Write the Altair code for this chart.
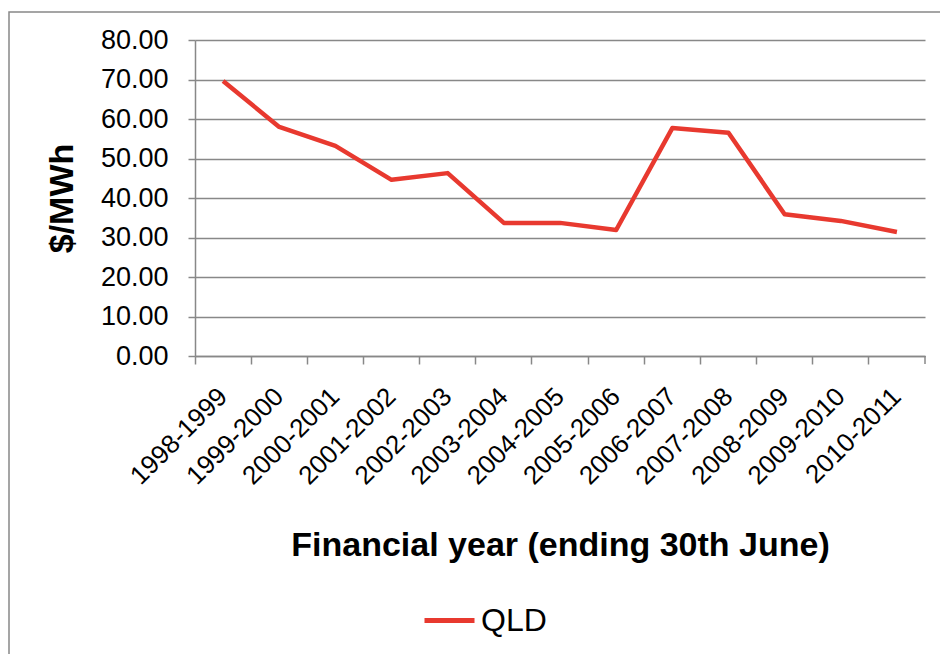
import altair as alt
import pandas as pd

years = ["1998-1999", "1999-2000", "2000-2001", "2001-2002", "2002-2003",
         "2003-2004", "2004-2005", "2005-2006", "2006-2007", "2007-2008",
         "2008-2009", "2009-2010", "2010-2011"]
qld = [69.6, 58.0, 53.2, 44.6, 46.3, 33.7, 33.7, 31.9, 57.7, 56.5, 35.9, 34.2, 31.4]
series = ["QLD"] * len(years)
y_ticks = [0, 10, 20, 30, 40, 50, 60, 70, 80]

df = pd.DataFrame({"year": years, "price": qld, "series": series})
one = pd.DataFrame({"k": [0]})

FONT = "Liberation Sans"
RED = "#E8392F"
GRAY = "#888888"

W, H = 730, 316

line = alt.Chart(df).mark_line(strokeWidth=4.5, strokeJoin="round").encode(
    x=alt.X("year:N", sort=years,
            scale=alt.Scale(type="band", paddingInner=0, paddingOuter=0),
            axis=alt.Axis(title="Financial year (ending 30th June)",
                          bandPosition=0, labelAngle=-45,
                          labelAlign="right", labelBaseline="middle",
                          labelPadding=28, labelFontSize=26, labelColor="black",
                          tickSize=8, tickColor=GRAY, tickWidth=1.5,
                          domainColor=GRAY, domainWidth=1.5,
                          titleFontSize=34, titleFontWeight="bold",
                          titleBaseline="alphabetic", titleY=199, titleColor="black",
                          grid=False)),
    y=alt.Y("price:Q", scale=alt.Scale(domain=[0, 80]),
            axis=alt.Axis(values=y_ticks, format=".2f", title="$/MWh",
                          titleFontSize=34, titleFontWeight="bold", titleAngle=-90,
                          titleX=-123, titleY=158, titleAlign="center",
                          titleBaseline="alphabetic", titleColor="black",
                          labelFontSize=27, labelPadding=20, labelColor="black",
                          tickSize=7, tickColor=GRAY, tickWidth=1.5,
                          gridColor=GRAY, gridWidth=1.5,
                          domainColor=GRAY, domainWidth=1.5)),
    color=alt.Color("series:N", scale=alt.Scale(domain=["QLD"], range=[RED]),
                    legend=alt.Legend(title=None, orient="none", legendX=227, legendY=553,
                                      symbolType="stroke", symbolSize=2500,
                                      symbolStrokeWidth=5, labelFontSize=32,
                                      labelOffset=4, labelColor="black")),
)

end_tick = alt.Chart(one).mark_rule(color=GRAY, strokeWidth=1.5).encode(
    x=alt.value(W), y=alt.value(H), y2=alt.value(H + 8))

border = alt.Chart(one).mark_rect(fillOpacity=0, stroke=GRAY, strokeWidth=1.5).encode(
    x=alt.value(-186), x2=alt.value(800), y=alt.value(-28), y2=alt.value(700))

chart = alt.layer(border, line, end_tick).properties(
    width=W, height=H,
    autosize=alt.AutoSizeParams(type="none"),
    padding={"left": 195, "top": 40, "right": 15, "bottom": 298},
).configure(font=FONT).configure_view(stroke=None)

chart.save("out.html", embed_options={"renderer": "svg", "actions": False})
